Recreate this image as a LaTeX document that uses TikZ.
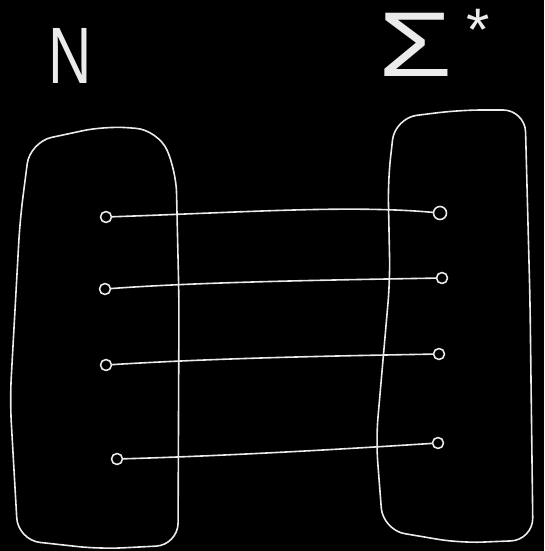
\documentclass[tikz,border=0pt]{standalone}
\usepackage{fontspec}
\setsansfont{Liberation Sans}
\begin{document}
\begin{tikzpicture}[x=1pt,y=-1pt,
  ink/.style={draw=white!92!black,line width=1.6pt,line cap=round,line join=round},
  dot/.style={circle,ink,minimum size=11pt,inner sep=0pt},
  lbl/.style={text=white!92!black,inner sep=0pt,font=\sffamily\fontsize{80}{80}\selectfont}]
\fill[black] (0,0) rectangle (544,551);
\useasboundingbox (0,0) rectangle (544,551);
% labels
\node[lbl,xscale=0.75] (labN) at (70,56) {N};
\node[lbl,xscale=1.5,yscale=1.15,anchor=base west] (labS) at (378,77) {Σ};
\node[lbl,font=\sffamily\fontsize{60}{60}\selectfont,anchor=center] (labStar) at (478,30) {*};
% left set
\draw[ink,rounded corners=22pt] (30,142) -- (105,126) -- (158,130) -- (176,170) -- (179,300) -- (178,545) -- (100,549) -- (18,540) -- (10,400) -- (20,220) -- cycle;
% right set
\draw[ink,rounded corners=22pt] (388,180) -- (395,118) -- (460,110) -- (525,110) -- (530,300) -- (533,540) -- (460,543) -- (383,530) -- (376,440) -- (390,280) -- cycle;
% elements
\node[dot] (l1) at (106,217) {};
\node[dot] (l2) at (105,289) {};
\node[dot] (l3) at (106,365) {};
\node[dot] (l4) at (117,459) {};
\node[dot,minimum size=13pt] (r1) at (440,213) {};
\node[dot] (r2) at (442,278) {};
\node[dot] (r3) at (439,354) {};
\node[dot] (r4) at (438,443) {};
% mapping
\draw[ink] (l1) .. controls (250,212) and (350,205) .. (r1);
\draw[ink] (l2) .. controls (200,282) and (330,280) .. (r2);
\draw[ink] (l3) .. controls (220,358) and (330,356) .. (r3);
\draw[ink] (l4) .. controls (220,456) and (330,450) .. (r4);
\end{tikzpicture}
\end{document}
